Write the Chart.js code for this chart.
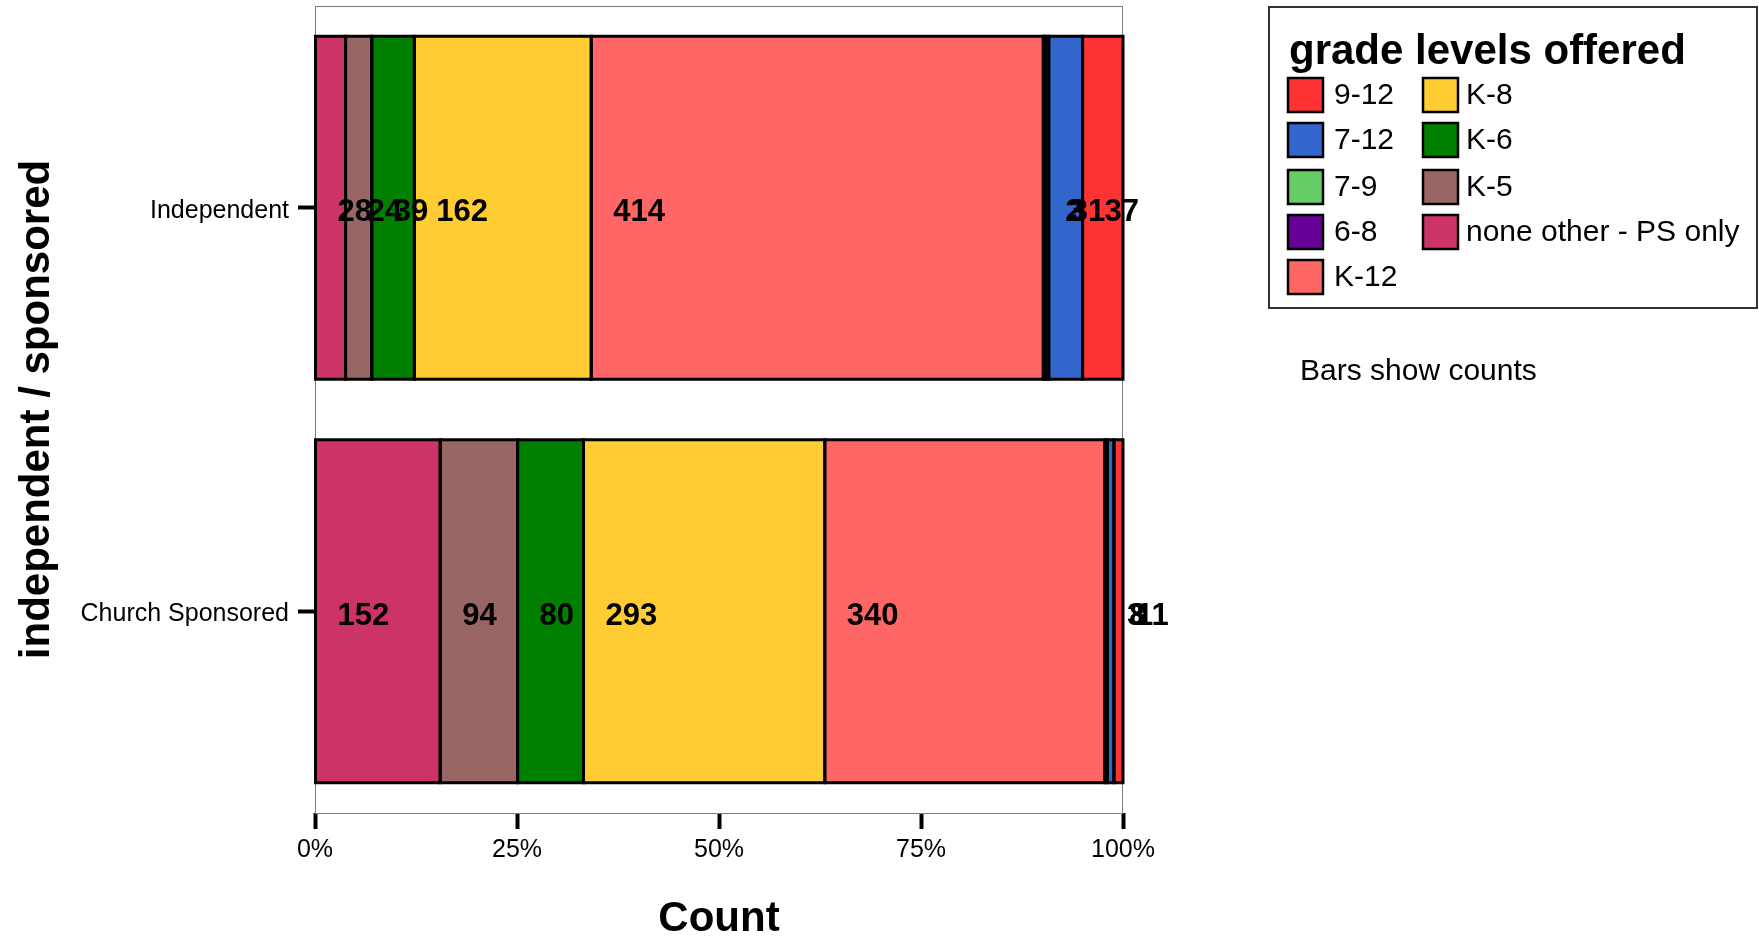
<!DOCTYPE html>
<html>
<head>
<meta charset="utf-8">
<script src="https://cdn.jsdelivr.net/npm/chart.js@4/dist/chart.umd.min.js"></script>
<style>
html,body{margin:0;padding:0;background:#fff;}
canvas{display:block;}
</style>
</head>
<body>
<canvas id="c" width="1759" height="940"></canvas>
<script>
// ---- data ----
const categories = ['Independent', 'Church Sponsored'];
// stacking order, left to right
const levels = ['none other - PS only', 'K-5', 'K-6', 'K-8', 'K-12', '6-8', '7-9', '7-12', '9-12'];
const psOnly = [28, 152];
const k5 = [24, 94];
const k6 = [39, 80];
const k8 = [162, 293];
const k12 = [414, 340];
const g68 = [2, 3];
const g79 = [3, 0];
const g712 = [31, 8];
const g912 = [37, 11];
const xTicks = [0, 25, 50, 75, 100];
const legendTitle = 'grade levels offered';
const legendOrder = ['9-12', '7-12', '7-9', '6-8', 'K-12', 'K-8', 'K-6', 'K-5', 'none other - PS only'];
const note = 'Bars show counts';

const counts = [psOnly, k5, k6, k8, k12, g68, g79, g712, g912];
const colors = {
  'none other - PS only': '#CC3366',
  'K-5': '#996666',
  'K-6': '#007F00',
  'K-8': '#FFCC33',
  'K-12': '#FF6666',
  '6-8': '#660099',
  '7-9': '#66CC66',
  '7-12': '#3366CC',
  '9-12': '#FF3333'
};
const totals = categories.map((_, j) => counts.reduce((s, arr) => s + arr[j], 0));

const datasets = levels.map((lv, i) => ({
  label: lv,
  data: counts[i].map((v, j) => v > 0 ? v / totals[j] * 100 : null),
  backgroundColor: colors[lv],
  borderWidth: 0,
  inflateAmount: 0,
  barPercentage: 0.85,
  categoryPercentage: 1.0
}));

const SANS = '"Liberation Sans", Arial, sans-serif';

const panelPlugin = {
  id: 'panel',
  beforeDatasetsDraw(chart) {
    const {ctx, chartArea: a} = chart;
    ctx.save();
    ctx.strokeStyle = '#7f7f7f';
    ctx.lineWidth = 1;
    ctx.strokeRect(a.left + 0.5, a.top + 0.5, a.right - a.left - 1, a.bottom - a.top);
    ctx.restore();
  }
};

// outlines (centered on bar edges, like the original) + count labels
const labelPlugin = {
  id: 'barLabels',
  afterDatasetsDraw(chart) {
    const ctx = chart.ctx;
    ctx.save();
    ctx.strokeStyle = '#000';
    ctx.lineWidth = 3;
    chart.data.datasets.forEach((ds, i) => {
      const meta = chart.getDatasetMeta(i);
      meta.data.forEach((el, j) => {
        if (!counts[i][j]) return;
        const p = el.getProps(['x', 'y', 'base', 'height'], true);
        const left = Math.min(p.x, p.base);
        ctx.strokeRect(left, p.y - p.height / 2, Math.abs(p.x - p.base), p.height);
      });
    });
    ctx.font = 'bold 31px ' + SANS;
    ctx.fillStyle = '#000';
    ctx.textAlign = 'left';
    ctx.textBaseline = 'middle';
    chart.data.datasets.forEach((ds, i) => {
      const meta = chart.getDatasetMeta(i);
      meta.data.forEach((el, j) => {
        const c = counts[i][j];
        if (!c) return;
        const left = Math.min(el.x, el.base);
        ctx.fillText(String(c), left + 22, el.y + 5);
      });
    });
    ctx.restore();
  }
};

const legendPlugin = {
  id: 'customLegend',
  afterDraw(chart) {
    const ctx = chart.ctx;
    ctx.save();
    ctx.strokeStyle = '#333';
    ctx.lineWidth = 2;
    ctx.strokeRect(1269, 7, 488, 301);
    ctx.fillStyle = '#000';
    ctx.font = 'bold 42px ' + SANS;
    ctx.textAlign = 'left';
    ctx.textBaseline = 'alphabetic';
    ctx.fillText(legendTitle, 1289, 64);
    const rows = [95, 140, 187, 232, 277];
    const cols = [[1288, 1334], [1423, 1466]];
    ctx.font = '30px ' + SANS;
    ctx.textBaseline = 'middle';
    legendOrder.forEach((lv, k) => {
      const col = k < 5 ? 0 : 1;
      const row = k < 5 ? k : k - 5;
      const [sx, tx] = cols[col];
      const cy = rows[row];
      ctx.fillStyle = colors[lv];
      ctx.fillRect(sx, cy - 17, 35, 34);
      ctx.strokeStyle = '#000';
      ctx.lineWidth = 2.5;
      ctx.strokeRect(sx, cy - 17, 35, 34);
      ctx.fillStyle = '#000';
      ctx.fillText(lv, tx, cy + 1);
    });
    ctx.font = '30px ' + SANS;
    ctx.fillText(note, 1300, 372);
    ctx.restore();
  }
};

new Chart(document.getElementById('c'), {
  type: 'bar',
  data: { labels: categories, datasets },
  plugins: [panelPlugin, labelPlugin, legendPlugin],
  options: {
    indexAxis: 'y',
    responsive: false,
    animation: false,
    layout: { padding: { left: 0, right: 636, top: 6, bottom: 0 } },
    plugins: { legend: { display: false }, tooltip: { enabled: false } },
    scales: {
      x: {
        type: 'linear',
        stacked: true,
        min: 0,
        max: 100,
        afterBuildTicks: (s) => { s.ticks = xTicks.map(v => ({ value: v })); },
        ticks: {
          color: '#000',
          font: { family: SANS, size: 25 },
          padding: 6,
          maxRotation: 0,
          callback: (v) => v + '%'
        },
        grid: { drawOnChartArea: false, drawTicks: true, tickLength: 16, tickWidth: 4, tickColor: '#000' },
        border: { display: false },
        title: {
          display: true,
          text: 'Count',
          color: '#000',
          font: { family: SANS, size: 42, weight: 'bold', lineHeight: 1 },
          padding: { top: 0, bottom: 0 }
        },
        afterFit: (s) => { s.height = 127; s.paddingLeft = 0; s.paddingRight = 0; }
      },
      y: {
        type: 'category',
        stacked: true,
        offset: true,
        ticks: {
          color: '#000',
          font: { family: SANS, size: 25 },
          padding: 9,
          labelOffset: 3
        },
        grid: { offset: false, drawOnChartArea: false, drawTicks: true, tickLength: 17, tickWidth: 4, tickColor: '#000' },
        border: { display: false },
        title: {
          display: true,
          text: 'independent / sponsored',
          color: '#000',
          font: { family: SANS, size: 42, weight: 'bold', lineHeight: 1 },
          padding: { top: 16, bottom: 0 }
        },
        afterFit: (s) => { s.width = 315; s.paddingTop = 0; s.paddingBottom = 0; }
      }
    }
  }
});
</script>
</body>
</html>
